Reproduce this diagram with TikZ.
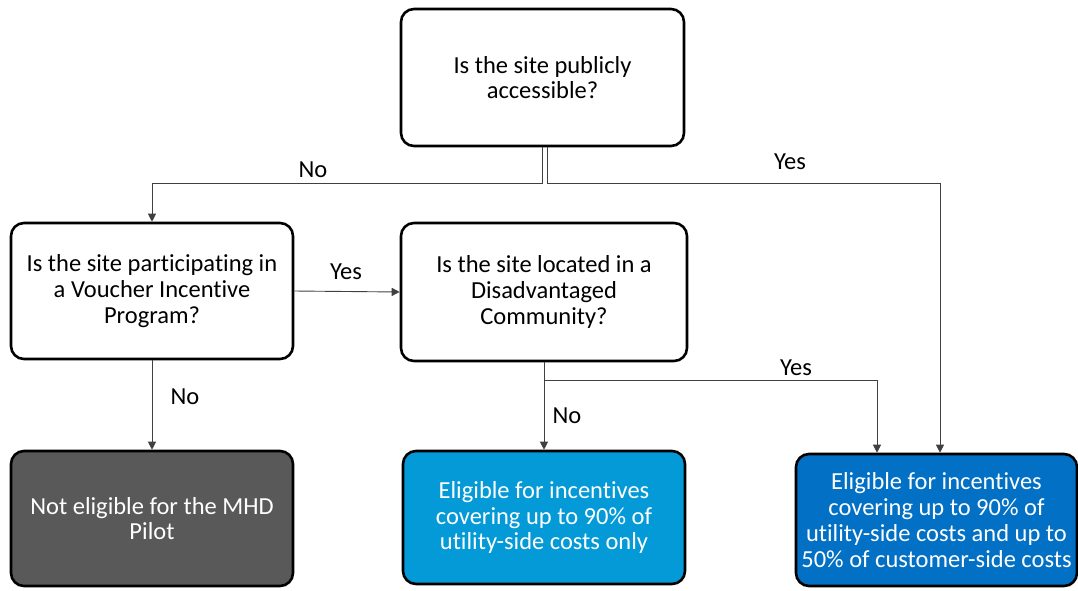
\documentclass[tikz,border=0pt]{standalone}
\usepackage{fontspec}
\setmainfont{Carlito}[Ligatures=NoCommon]
\usetikzlibrary{positioning, arrows.meta}
\definecolor{PilotGrey}{RGB}{89,89,89}
\definecolor{LightBlue}{RGB}{4,154,216}
\definecolor{DeepBlue}{RGB}{2,112,196}

\begin{document}
\begin{tikzpicture}[x=1pt, y=-1pt, every node/.style={font=\fontsize{24.5}{25.8}\selectfont}]
        \tikzstyle{question} = [rectangle, draw=black, line width=2.6pt, fill=white,
          rounded corners=13pt, align=center, inner sep=0pt]
        \tikzstyle{outcome} = [question, text=white]
        \tikzstyle{conn} = [draw=black!75, line width=0.9pt, -{Triangle[length=8pt, width=8pt]}]
        \useasboundingbox (0,0) rectangle (1078,590);

        % questions
        \node[question, minimum width=283pt, minimum height=137pt] (q1) at (542.5,77.5)
          {Is the site publicly\\accessible?};
        \node[question, minimum width=282pt, minimum height=136pt] (q2) at (152,291)
          {Is the site participating in\\a Voucher Incentive\\Program?};
        \node[question, minimum width=286pt, minimum height=138pt] (q3) at (544,292)
          {Is the site located in a\\Disadvantaged\\Community?};

        % outcomes
        \node[outcome, fill=PilotGrey, minimum width=282pt, minimum height=135pt] (r0) at (152,518.5)
          {Not eligible for the MHD\\Pilot};
        \node[outcome, fill=LightBlue, minimum width=282pt, minimum height=133pt] (r1) at (544,517.5)
          {Eligible for incentives\\covering up to 90\% of\\utility-side costs only};
        \node[outcome, fill=DeepBlue, minimum width=281pt, minimum height=132pt] (r2) at (936.5,520)
          {Eligible for incentives\\covering up to 90\% of\\utility-side costs and up to\\50\% of customer-side costs};

        % connectors
        \draw[conn] ([xshift=-0.5pt]q1.south) -- ++(0,36) -| (q2.north);
        \draw[conn] ([xshift=4.5pt]q1.south) -- ++(0,36) -| ([xshift=3.5pt]r2.north);
        \draw[conn] (q2.east) -- (q3.west);
        \draw[conn] (q2.south) -- (r0.north);
        \draw[conn] (q3.south) -- (r1.north);
        \draw[conn] (q3.south) -- ++(0,18) -| ([xshift=-59.5pt]r2.north);

        % labels
        \node (noA) at (313,170) {No};
        \node (yesA) at (790,162) {Yes};
        \node (yesB) at (346,272) {Yes};
        \node (noB) at (185,397) {No};
        \node (yesC) at (796,368) {Yes};
        \node (noC) at (567,416) {No};
      \end{tikzpicture}
\end{document}
